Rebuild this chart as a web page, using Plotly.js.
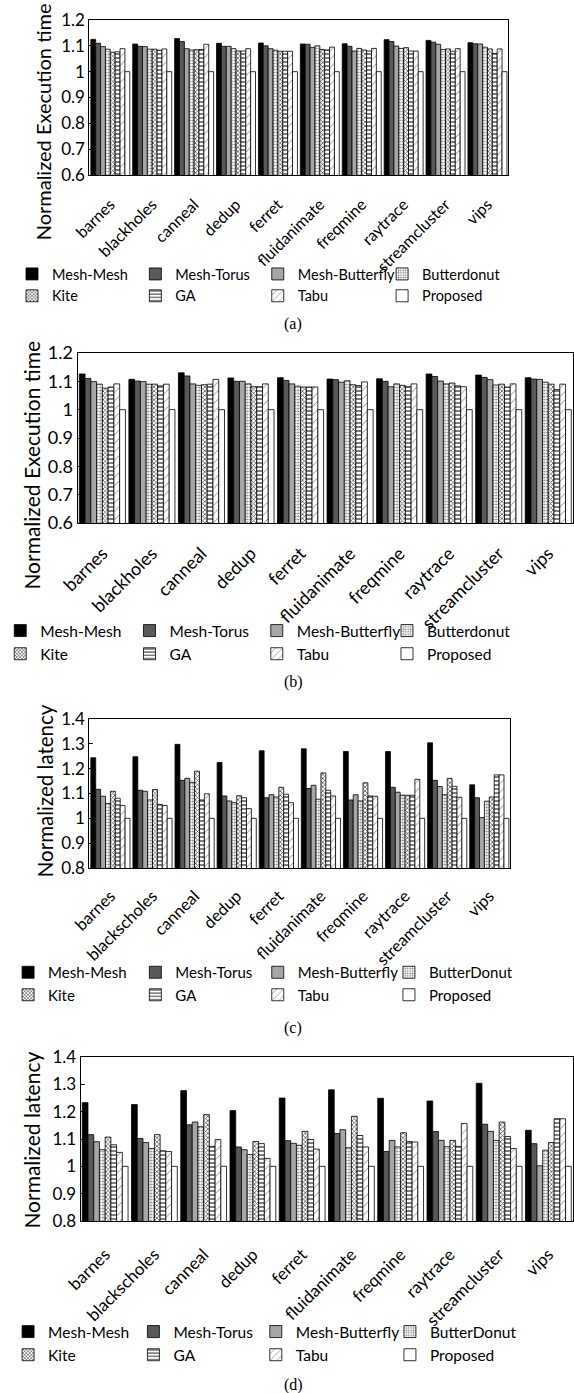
<!DOCTYPE html>
<html><head><meta charset="utf-8">
<script src="https://cdn.plot.ly/plotly-3.0.1.min.js"></script>
<style>html,body{margin:0;padding:0;background:#fff}#chart{width:574px;height:1393px}</style>
</head><body><div id="chart"></div>
<script>
// ---------- categories, series names, tick values ----------
const benchmarksAB = ["barnes","blackholes","canneal","dedup","ferret","fluidanimate","freqmine","raytrace","streamcluster","vips"];
const benchmarksCD = ["barnes","blackscholes","canneal","dedup","ferret","fluidanimate","freqmine","raytrace","streamcluster","vips"];
const seriesAB = ["Mesh-Mesh","Mesh-Torus","Mesh-Butterfly","Butterdonut","Kite","GA","Tabu","Proposed"];
const seriesCD = ["Mesh-Mesh","Mesh-Torus","Mesh-Butterfly","ButterDonut","Kite","GA","Tabu","Proposed"];
const yTicksExec = [0.6,0.7,0.8,0.9,1,1.1,1.2];
const yTicksLat = [0.8,0.9,1,1.1,1.2,1.3,1.4];

// ---------- (a) normalized execution time ----------
const a_meshMesh      = [1.125,1.107,1.128,1.110,1.111,1.107,1.108,1.124,1.121,1.112];
const a_meshTorus     = [1.110,1.098,1.117,1.098,1.100,1.106,1.098,1.117,1.114,1.108];
const a_meshButterfly = [1.097,1.097,1.089,1.098,1.089,1.094,1.080,1.099,1.106,1.107];
const a_butterdonut   = [1.087,1.087,1.084,1.089,1.083,1.100,1.090,1.090,1.086,1.095];
const a_kite          = [1.075,1.087,1.085,1.080,1.079,1.086,1.084,1.093,1.088,1.088];
const a_ga            = [1.077,1.083,1.086,1.080,1.079,1.084,1.080,1.080,1.079,1.070];
const a_tabu          = [1.089,1.088,1.106,1.089,1.079,1.095,1.090,1.080,1.089,1.088];
const a_proposed      = [1,1,1,1,1,1,1,1,1,1];

// ---------- (b) normalized execution time ----------
const b_meshMesh      = [1.126,1.107,1.130,1.112,1.113,1.108,1.109,1.126,1.122,1.113];
const b_meshTorus     = [1.110,1.101,1.119,1.100,1.103,1.106,1.100,1.117,1.114,1.108];
const b_meshButterfly = [1.099,1.099,1.091,1.100,1.091,1.097,1.081,1.101,1.106,1.107];
const b_butterdonut   = [1.090,1.090,1.086,1.091,1.083,1.102,1.091,1.091,1.087,1.097];
const b_kite          = [1.076,1.090,1.088,1.081,1.080,1.088,1.086,1.094,1.090,1.090];
const b_ga            = [1.080,1.084,1.090,1.081,1.080,1.085,1.081,1.084,1.080,1.071];
const b_tabu          = [1.091,1.090,1.107,1.091,1.080,1.098,1.091,1.081,1.091,1.090];
const b_proposed      = [1,1,1,1,1,1,1,1,1,1];

// ---------- (c) normalized latency ----------
const c_meshMesh      = [1.244,1.248,1.298,1.225,1.272,1.280,1.269,1.269,1.304,1.135];
const c_meshTorus     = [1.117,1.113,1.153,1.090,1.083,1.120,1.074,1.125,1.153,1.083];
const c_meshButterfly = [1.089,1.109,1.161,1.070,1.095,1.133,1.095,1.105,1.128,1.003];
const c_butterDonut   = [1.060,1.074,1.145,1.063,1.086,1.077,1.070,1.093,1.095,1.069];
const c_kite          = [1.109,1.116,1.190,1.091,1.125,1.183,1.143,1.093,1.161,1.086];
const c_ga            = [1.081,1.056,1.074,1.083,1.097,1.113,1.090,1.093,1.129,1.175];
const c_tabu          = [1.052,1.052,1.099,1.039,1.063,1.090,1.089,1.157,1.085,1.175];
const c_proposed      = [1,1,1,1,1,1,1,1,1,1];

// ---------- (d) normalized latency ----------
const d_meshMesh      = [1.233,1.226,1.277,1.204,1.250,1.280,1.249,1.239,1.304,1.132];
const d_meshTorus     = [1.116,1.102,1.152,1.071,1.094,1.120,1.054,1.127,1.154,1.083];
const d_meshButterfly = [1.090,1.087,1.162,1.061,1.084,1.134,1.095,1.095,1.128,1.002];
const d_butterDonut   = [1.061,1.065,1.145,1.043,1.077,1.068,1.071,1.072,1.095,1.059];
const d_kite          = [1.107,1.116,1.189,1.091,1.128,1.183,1.123,1.095,1.162,1.087];
const d_ga            = [1.079,1.057,1.073,1.083,1.098,1.113,1.091,1.073,1.109,1.174];
const d_tabu          = [1.051,1.054,1.098,1.029,1.063,1.071,1.089,1.157,1.065,1.174];
const d_proposed      = [1,1,1,1,1,1,1,1,1,1];

// ---------- styling ----------
const W = 574, H = 1393;
const px = v => v / W;
const py = v => 1 - v / H;
const FONT = "Lato, 'Open Sans', sans-serif";
const SERIF = "'Liberation Serif', 'DejaVu Serif', serif";
const outline = {color:'#000', width:0.8};
const styles = [
  {color:'#000000', line:outline},
  {color:'#595959', line:outline},
  {color:'#a6a6a6', line:outline},
  {color:'#ffffff', line:outline, pattern:{shape:'.', fgcolor:'#777', bgcolor:'#fff', size:3, solidity:0.35}},
  {color:'#ffffff', line:outline, pattern:{shape:'x', fgcolor:'#555', bgcolor:'#fff', size:3, solidity:0.45}},
  {color:'#ffffff', line:outline, pattern:{shape:'-', fgcolor:'#000', bgcolor:'#fff', size:4, solidity:0.25}},
  {color:'#ffffff', line:outline, pattern:{shape:'/', fgcolor:'#888', bgcolor:'#fff', size:6, solidity:0.15}},
  {color:'#ffffff', line:outline}
];

const panels = [
  {cats:benchmarksAB, names:seriesAB, data:[a_meshMesh,a_meshTorus,a_meshButterfly,a_butterdonut,a_kite,a_ga,a_tabu,a_proposed],
   box:[79,507,20,175], range:[0.6,1.2], ticks:yTicksExec, tickSize:17, xFont:16, standoff:13,
   title:"Normalized Execution time", titleSize:20, titleX:32, titleY:122,
   legY:258, legCols:[0,126,251,378], legFont:14.5, cap:"(a)", capY:324},
  {cats:benchmarksAB, names:seriesAB, data:[b_meshMesh,b_meshTorus,b_meshButterfly,b_butterdonut,b_kite,b_ga,b_tabu,b_proposed],
   box:[67,573,353,523], range:[0.6,1.2], ticks:yTicksExec, tickSize:18, xFont:18, standoff:12,
   title:"Normalized Execution time", titleSize:21, titleX:19, titleY:465,
   legY:614, legCols:[-12,120,250,383], legFont:15.5, cap:"(b)", capY:682},
  {cats:benchmarksCD, names:seriesCD, data:[c_meshMesh,c_meshTorus,c_meshButterfly,c_butterDonut,c_kite,c_ga,c_tabu,c_proposed],
   box:[79,509,719,868], range:[0.8,1.4], ticks:yTicksLat, tickSize:17, xFont:16.5, standoff:11,
   title:"Normalized latency", titleSize:20.5, titleX:34, titleY:791,
   legY:956, legCols:[-4,126,251,385], legFont:15, cap:"(c)", capY:1028},
  {cats:benchmarksCD, names:seriesCD, data:[d_meshMesh,d_meshTorus,d_meshButterfly,d_butterDonut,d_kite,d_ga,d_tabu,d_proposed],
   box:[70,573,1057,1221], range:[0.8,1.4], ticks:yTicksLat, tickSize:17, xFont:17, standoff:16,
   title:"Normalized latency", titleSize:21, titleX:19, titleY:1140,
   legY:1315, legCols:[-4,124,249,386], legFont:15.5, cap:"(d)", capY:1385}
];

const traces = [];
const layout = {
  width:W, height:H, margin:{l:0,r:0,t:0,b:0},
  paper_bgcolor:'#fff', plot_bgcolor:'#fff',
  barmode:'group', bargap:0.07, bargroupgap:0,
  font:{family:FONT, color:'#000'},
  annotations:[], showlegend:true
};

const legName = idx => idx === 1 ? 'legend' : 'legend' + idx;

panels.forEach((p, k) => {
  const n = k + 1;
  const xa = n === 1 ? 'x' : 'x' + n;
  const ya = n === 1 ? 'y' : 'y' + n;
  p.data.forEach((vals, i) => {
    traces.push({
      type:'bar', x:p.cats, y:vals, name:p.names[i],
      xaxis:xa, yaxis:ya, legend:legName(4 * k + (i % 4) + 1),
      marker:styles[i], hoverinfo:'skip'
    });
  });
  layout[(n === 1 ? 'xaxis' : 'xaxis' + n)] = {
    domain:[px(p.box[0]), px(p.box[1])], anchor:ya, type:'category',
    showline:true, mirror:true, linecolor:'#000', linewidth:1,
    ticks:'', tickangle:-45, ticklabelstandoff:p.standoff,
    tickfont:{size:p.xFont, family:FONT, color:'#000'},
    showgrid:false, zeroline:false, fixedrange:true
  };
  layout[(n === 1 ? 'yaxis' : 'yaxis' + n)] = {
    domain:[py(p.box[3]), py(p.box[2])], anchor:xa, range:p.range,
    tickvals:p.ticks, ticks:'inside', ticklen:4, tickcolor:'#000',
    showline:true, mirror:true, linecolor:'#000', linewidth:1,
    tickfont:{size:p.tickSize, family:FONT, color:'#000'},
    showgrid:false, zeroline:false, fixedrange:true
  };
  p.legCols.forEach((cx, c) => {
    layout[legName(4 * k + c + 1)] = {
      x:px(cx), y:py(p.legY), xanchor:'left', yanchor:'top',
      orientation:'v', font:{size:p.legFont, family:FONT, color:'#000'},
      bgcolor:'rgba(0,0,0,0)', borderwidth:0, traceorder:'normal',
      itemwidth:30, tracegroupgap:0
    };
  });
  layout.annotations.push({
    text:p.title, xref:'paper', yref:'paper', x:px(p.titleX), y:py(p.titleY),
    xanchor:'center', yanchor:'middle', textangle:-90, showarrow:false,
    font:{size:p.titleSize, family:FONT, color:'#000'}
  });
  layout.annotations.push({
    text:p.cap, xref:'paper', yref:'paper', x:px(287), y:py(p.capY),
    xanchor:'center', yanchor:'middle', showarrow:false,
    font:{size:16, family:SERIF, color:'#000'}
  });
});

Plotly.newPlot('chart', traces, layout, {staticPlot:true, displayModeBar:false});
</script>
</body></html>
